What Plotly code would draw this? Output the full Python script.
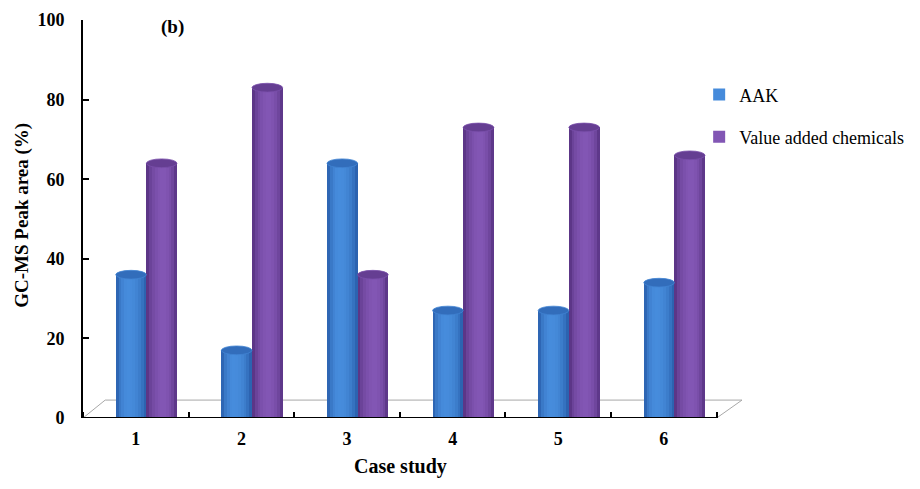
import numpy as np
import plotly.graph_objects as go

# ---- data ----
cases = [1, 2, 3, 4, 5, 6]
case_labels = ["1", "2", "3", "4", "5", "6"]
aak = [36, 17, 64, 27, 27, 34]
vac = [64, 83, 36, 73, 73, 66]
y_ticks = [0, 20, 40, 60, 80, 100]

series = [
    ("AAK", aak, (34, 84, 160), (70, 140, 220), 0.42, "legend"),
    ("Value added chemicals", vac, (78, 42, 118), (130, 86, 180), 0.55, "legend2"),
]

SHIFT = 0.10     # 3D perspective shift of bar pairs
BW = 0.29        # width of one cylinder
NSTRIP = 11

# page body has an 8px margin; compensate so the plot area sits where it should
OFF = 8
L, T, R, B = 83 - OFF, 20 - OFF, 920 - 742 + OFF, 489 - 418 + OFF

fig = go.Figure()

# floor of the 3D chart (drawn under bars)
fig.add_shape(type="path",
              path="M 0.5 0 L 0.71 4.5 L 6.74 4.5 L 6.5 0 Z",
              xref="x", yref="y", line=dict(color="#a8a8a8", width=1),
              fillcolor="white", layer="below")

def mix(c1, c2, a):
    return "rgb(%d,%d,%d)" % tuple(int(round(c1[k] + (c2[k] - c1[k]) * a)) for k in range(3))

for si, (name, vals, dark, light, hl, lg) in enumerate(series):
    base_off = SHIFT - BW + si * BW
    for i in range(NSTRIP):
        t = (i + 0.5) / NSTRIP
        d = (t - hl) / (hl if t < hl else 1 - hl)
        a = np.clip(1 - d * d, 0, 1) ** 0.7
        col = mix(dark, light, a)
        fig.add_trace(go.Bar(
            x=cases, y=vals, name=name,
            offset=base_off + i * BW / NSTRIP, width=BW / NSTRIP * 1.03,
            marker=dict(color=col, line=dict(width=0)),
            showlegend=(i == NSTRIP // 2), legend=lg,
            hoverinfo="skip"))
    # cylinder top caps
    for xc, v in zip(cases, vals):
        fig.add_shape(type="circle", xref="x", yref="y",
                      x0=xc + base_off, x1=xc + base_off + BW,
                      y0=v - 1.1, y1=v + 1.1,
                      fillcolor=mix(dark, light, 0.45),
                      line=dict(width=0.8, color=mix(dark, light, 0.85)),
                      layer="above")

# x axis line (front edge)
fig.add_shape(type="line", xref="x", yref="y", x0=0.5, x1=6.5, y0=0, y1=0,
              line=dict(color="black", width=2), layer="above")

serif = "Liberation Serif, Times New Roman, serif"

fig.update_layout(
    width=920, height=489,
    margin=dict(l=L, r=R, t=T, b=B, autoexpand=False),
    plot_bgcolor="white", paper_bgcolor="white",
    barmode="overlay", bargap=0,
    font=dict(family=serif, color="black"),
    xaxis=dict(range=[0.5, 6.74], tickvals=cases, ticktext=case_labels,
               automargin=False,
               showgrid=False, zeroline=False, showline=False, ticks="",
               tickfont=dict(size=18, family=serif, weight="bold"),
               ticklabelstandoff=8,
               minor=dict(tickvals=[0.5, 1.5, 2.5, 3.5, 4.5, 5.5, 6.5], ticks="inside",
                          ticklen=6, tickwidth=2, tickcolor="black")),
    yaxis=dict(range=[0, 100], tickvals=y_ticks, showgrid=False, zeroline=False,
               automargin=False,
               showline=True, linecolor="black", linewidth=2,
               ticks="inside", ticklen=6, tickwidth=2, tickcolor="black",
               tickfont=dict(size=18, family=serif, weight="bold"),
               ticklabelstandoff=13),
    legend=dict(x=0.935, y=0.812, xanchor="left", yanchor="middle",
                bgcolor="rgba(0,0,0,0)", font=dict(size=18, family=serif)),
    legend2=dict(x=0.935, y=0.706, xanchor="left", yanchor="middle",
                 bgcolor="rgba(0,0,0,0)", font=dict(size=18, family=serif)),
    annotations=[
        dict(text="Case study", x=(400 - 83) / 659, y=-0.123, xref="paper", yref="paper",
             xanchor="center", yanchor="middle", showarrow=False,
             font=dict(size=20, family=serif, weight="bold")),
        dict(text="GC-MS Peak area (%)", x=-0.093, y=0.51, xref="paper", yref="paper",
             xanchor="center", yanchor="middle", textangle=-90, showarrow=False,
             font=dict(size=19, family=serif, weight="bold")),
        dict(text="(b)", x=(172 - 83) / 659, y=0.982, xref="paper", yref="paper",
             xanchor="center", yanchor="middle", showarrow=False,
             font=dict(size=19, family=serif, weight="bold")),
    ],
)

fig.write_html("out.html")
